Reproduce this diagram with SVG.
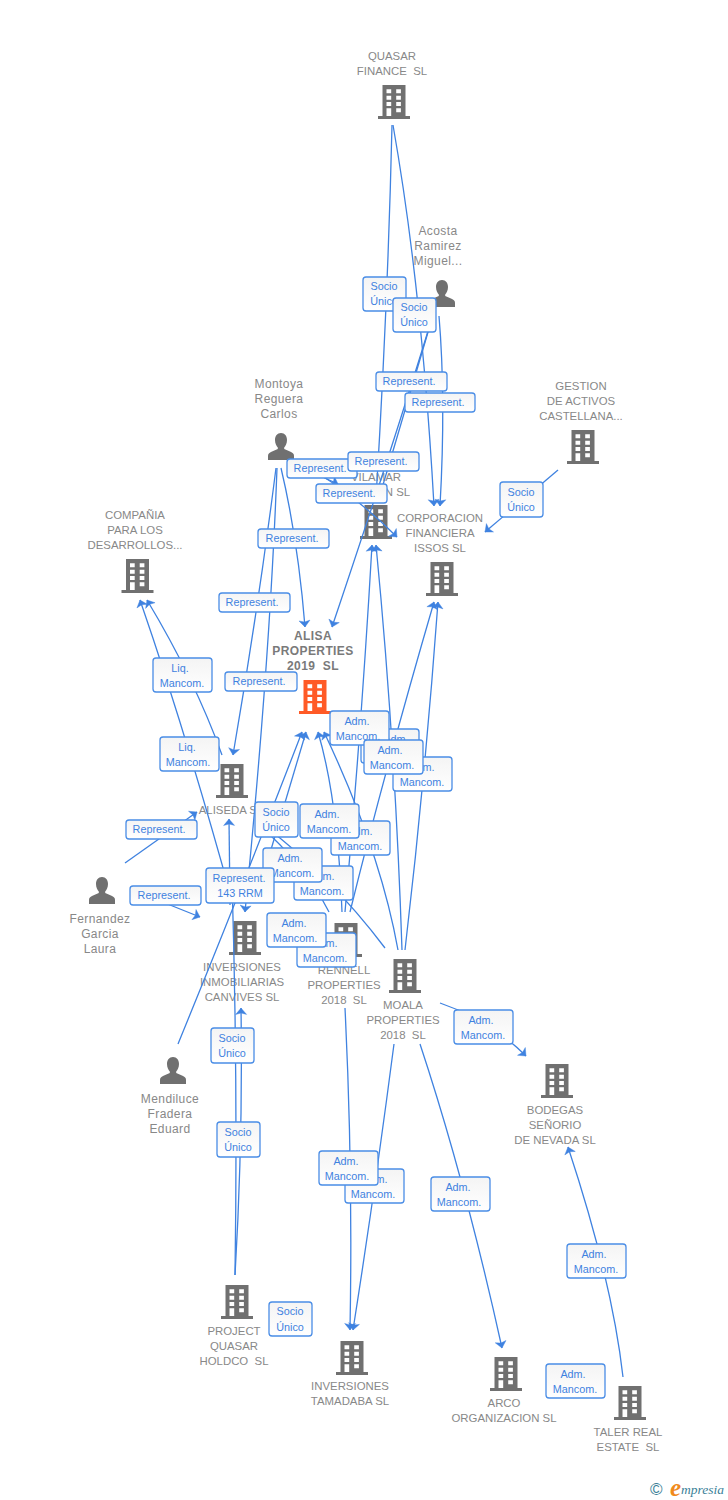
<svg xmlns="http://www.w3.org/2000/svg" width="728" height="1500" viewBox="0 0 728 1500">
<style>
text{font-family:"Liberation Sans",Arial,sans-serif}
.n{font-size:11.4px;fill:#888;text-anchor:middle;white-space:pre}
.h{font-size:12px;fill:#888;text-anchor:middle;letter-spacing:.4px}
.a{font-size:12px;fill:#7a7a7a;font-weight:bold;text-anchor:middle;white-space:pre;letter-spacing:.4px}
.c path{fill:none;stroke:#3f82e0;stroke-width:1.3;marker-end:url(#m)}
.l rect{fill:url(#g);stroke:#4a8de6;stroke-width:1.3}
.l text{font-size:10.8px;fill:#3f82e0;text-anchor:middle}
</style>
<defs>
<marker id="m" markerUnits="userSpaceOnUse" markerWidth="14" markerHeight="14" refX="10" refY="6" orient="auto" overflow="visible"><path d="M3.5,.5 L10,6 L3.5,11.5 L5,6 Z" style="fill:#3f82e0;stroke:#3f82e0;stroke-width:.4"/></marker>
<linearGradient id="g" x1="0" y1="0" x2="0" y2="1"><stop offset="0" stop-color="#f4f4f4"/><stop offset="1" stop-color="#fff"/></linearGradient>
<path id="b" d="M-11.5,0H11.5V31H16V34H-16V31H-11.5ZM-7.5,4.3V8.3H-2.8V4.3ZM2.2,4.3V8.3H6.9V4.3ZM-7.5,10.7V14.7H-2.8V10.7ZM2.2,10.7V14.7H6.9V10.7ZM-7.5,17V21H-2.8V17ZM2.2,17V21H6.9V17ZM-7.5,23.3V31H-2.8V23.3ZM2.2,23.3V27.3H6.9V23.3Z" fill-rule="evenodd"/>
<path id="p" d="M0,0C3.8,0 6,3 6,7C6,10.5 4.5,13 3.2,14.5V16L9,18.5C12,19.7 13,21 13,23V27H-13V23C-13,21 -12,19.7 -9,18.5L-3.2,16V14.5C-4.5,13 -6,10.5 -6,7C-6,3 -3.8,0 0,0Z"/>
</defs>
<rect width="728" height="1500" fill="#fff"/>
<g id="nodes">
<g id="quasar" fill="#707070"><use href="#b" x="394" y="85"/><text class="n" x="392" y="60">QUASAR</text><text class="n" x="392" y="75">FINANCE  SL</text></g>
<g id="acosta" fill="#707070"><use href="#p" x="442" y="280"/><text class="h" x="438" y="235">Acosta</text><text class="h" x="438" y="250">Ramirez</text><text class="h" x="438" y="265">Miguel...</text></g>
<g id="gestion" fill="#707070"><use href="#b" x="583" y="430"/><text class="n" x="581" y="390">GESTION</text><text class="n" x="581" y="405">DE ACTIVOS</text><text class="n" x="581" y="420">CASTELLANA...</text></g>
<g id="montoya" fill="#707070"><use href="#p" x="281" y="433"/><text class="h" x="279" y="388">Montoya</text><text class="h" x="279" y="403">Reguera</text><text class="h" x="279" y="418">Carlos</text></g>
<g id="vilamar" fill="#707070"><use href="#b" x="376" y="505"/><text class="n" x="376" y="481">VILAMAR</text><text class="n" x="376" y="496">GESTION SL</text></g>
<g id="corporacion" fill="#707070"><use href="#b" x="442" y="562"/><text class="n" x="440" y="522">CORPORACION</text><text class="n" x="440" y="537">FINANCIERA</text><text class="n" x="440" y="552">ISSOS SL</text></g>
<g id="compania" fill="#707070"><use href="#b" x="137.500" y="559"/><text class="n" x="135" y="519">COMPAÑIA</text><text class="n" x="135" y="534">PARA LOS</text><text class="n" x="135" y="549">DESARROLLOS...</text></g>
<g id="alisa" fill="#ff5a26"><use href="#b" x="315" y="680"/><text class="a" x="313" y="640">ALISA</text><text class="a" x="313" y="655">PROPERTIES</text><text class="a" x="313" y="670">2019  SL</text></g>
<g id="aliseda" fill="#707070"><use href="#b" x="232" y="764"/><text class="n" x="231" y="814">ALISEDA SL</text></g>
<g id="fernandez" fill="#707070"><use href="#p" x="102" y="877"/><text class="h" x="100" y="923">Fernandez</text><text class="h" x="100" y="938">Garcia</text><text class="h" x="100" y="953">Laura</text></g>
<g id="canvives" fill="#707070"><use href="#b" x="245" y="921"/><text class="n" x="242" y="971">INVERSIONES</text><text class="n" x="242" y="986">INMOBILIARIAS</text><text class="n" x="242" y="1001">CANVIVES SL</text></g>
<g id="rennell" fill="#707070"><use href="#b" x="346" y="923"/><text class="n" x="344" y="974">RENNELL</text><text class="n" x="344" y="989">PROPERTIES</text><text class="n" x="344" y="1004">2018  SL</text></g>
<g id="moala" fill="#707070"><use href="#b" x="405" y="959"/><text class="n" x="403" y="1009">MOALA</text><text class="n" x="403" y="1024">PROPERTIES</text><text class="n" x="403" y="1039">2018  SL</text></g>
<g id="mendiluce" fill="#707070"><use href="#p" x="173" y="1057"/><text class="h" x="170" y="1103">Mendiluce</text><text class="h" x="170" y="1118">Fradera</text><text class="h" x="170" y="1133">Eduard</text></g>
<g id="bodegas" fill="#707070"><use href="#b" x="557" y="1064"/><text class="n" x="555" y="1114">BODEGAS</text><text class="n" x="555" y="1129">SEÑORIO</text><text class="n" x="555" y="1144">DE NEVADA SL</text></g>
<g id="project" fill="#707070"><use href="#b" x="237" y="1285"/><text class="n" x="234" y="1335">PROJECT</text><text class="n" x="234" y="1350">QUASAR</text><text class="n" x="234" y="1365">HOLDCO  SL</text></g>
<g id="tamadaba" fill="#707070"><use href="#b" x="352" y="1341"/><text class="n" x="350" y="1390">INVERSIONES</text><text class="n" x="350" y="1405">TAMADABA SL</text></g>
<g id="arco" fill="#707070"><use href="#b" x="506" y="1357"/><text class="n" x="504" y="1407">ARCO</text><text class="n" x="504" y="1422">ORGANIZACION SL</text></g>
<g id="taler" fill="#707070"><use href="#b" x="630" y="1386"/><text class="n" x="628" y="1436">TALER REAL</text><text class="n" x="628" y="1451">ESTATE  SL</text></g>
</g>
<g id="connectors" class="c">
<path d="M392 125Q388 300 376 498"/>
<path d="M393 125Q422 290 434 506"/>
<path d="M439 316Q446 400 440 506"/>
<path d="M436 305Q395 440 332 627"/>
<path d="M436 305Q408 400 380 495"/>
<path d="M276 468Q258 610 233 755"/>
<path d="M277 468Q270 660 245 912"/>
<path d="M281 468Q298 540 305 627"/>
<path d="M296 465L338 484"/>
<path d="M296 460Q350 490 397 537"/>
<path d="M232 900Q185 730 140 600"/>
<path d="M222 755Q195 680 147 600"/>
<path d="M230 905L229 819"/>
<path d="M125 863L197 812"/>
<path d="M140 893L200 917"/>
<path d="M178 1044Q245 880 302 732"/>
<path d="M256 900L306 732"/>
<path d="M329 912Q305 865 258 824"/>
<path d="M385 948Q330 875 262 824"/>
<path d="M342 912Q338 800 318 732"/>
<path d="M398 950Q380 850 324 732"/>
<path d="M345 912Q362 720 372 545"/>
<path d="M402 950Q395 740 376 545"/>
<path d="M350 912Q385 770 434 602"/>
<path d="M405 950Q425 780 438 602"/>
<path d="M345 1008Q353 1170 350 1330"/>
<path d="M394 1044Q375 1190 353 1330"/>
<path d="M420 1044Q465 1180 502 1348"/>
<path d="M440 1003Q490 1020 526 1056"/>
<path d="M623 1377Q612 1280 568 1147"/>
<path d="M558 470L485 532"/>
<path d="M235 1275Q243 1140 241 1008"/>
<path d="M235 1275Q238 1080 232 880"/>
</g>
<g id="labels" class="l">
<g><rect x="363" y="277" width="43" height="34" rx="3"/><text x="384" y="290">Socio</text><text x="384" y="305">Único</text></g>
<g><rect x="393" y="298" width="43" height="34" rx="3"/><text x="414" y="311">Socio</text><text x="414" y="326">Único</text></g>
<g><rect x="376" y="372" width="71" height="19" rx="3"/><text x="409" y="385">Represent.</text></g>
<g><rect x="405" y="393" width="70" height="19" rx="3"/><text x="438" y="406">Represent.</text></g>
<g><rect x="287" y="459" width="70" height="19" rx="3"/><text x="320" y="472">Represent.</text></g>
<g><rect x="348" y="452" width="71" height="19" rx="3"/><text x="381" y="465">Represent.</text></g>
<g><rect x="316" y="484" width="71" height="19" rx="3"/><text x="349" y="497">Represent.</text></g>
<g><rect x="500" y="482" width="43" height="35" rx="3"/><text x="521" y="496">Socio</text><text x="521" y="511">Único</text></g>
<g><rect x="258" y="529" width="71" height="19" rx="3"/><text x="292" y="542">Represent.</text></g>
<g><rect x="219" y="593" width="71" height="19" rx="3"/><text x="252" y="606">Represent.</text></g>
<g><rect x="153" y="658" width="59" height="34" rx="3"/><text x="180" y="672">Liq.</text><text x="182" y="687">Mancom.</text></g>
<g><rect x="225" y="672" width="72" height="19" rx="3"/><text x="259" y="685">Represent.</text></g>
<g><rect x="160" y="737" width="59" height="34" rx="3"/><text x="187" y="751">Liq.</text><text x="188" y="766">Mancom.</text></g>
<g><rect x="361" y="729" width="58" height="34" rx="3"/><text x="396" y="743">Adm.</text><text x="391" y="758">Mancom.</text></g>
<g><rect x="393" y="757" width="59" height="34" rx="3"/><text x="422" y="771">Adm.</text><text x="422" y="786">Mancom.</text></g>
<g><rect x="330" y="711" width="59" height="34" rx="3"/><text x="357" y="725">Adm.</text><text x="358" y="740">Mancom.</text></g>
<g><rect x="364" y="740" width="59" height="34" rx="3"/><text x="390" y="754">Adm.</text><text x="392" y="769">Mancom.</text></g>
<g><rect x="126" y="820" width="71" height="19" rx="3"/><text x="159" y="833">Represent.</text></g>
<g><rect x="331" y="821" width="59" height="34" rx="3"/><text x="360" y="835">Adm.</text><text x="360" y="850">Mancom.</text></g>
<g><rect x="300" y="804" width="59" height="34" rx="3"/><text x="327" y="818">Adm.</text><text x="329" y="833">Mancom.</text></g>
<g><rect x="255" y="802" width="43" height="35" rx="3"/><text x="276" y="816">Socio</text><text x="276" y="831">Único</text></g>
<g><rect x="294" y="866" width="59" height="34" rx="3"/><text x="322" y="880">Adm.</text><text x="322" y="895">Mancom.</text></g>
<g><rect x="263" y="848" width="59" height="34" rx="3"/><text x="290" y="862">Adm.</text><text x="292" y="877">Mancom.</text></g>
<g><rect x="130" y="886" width="71" height="19" rx="3"/><text x="164" y="899">Represent.</text></g>
<g><rect x="206" y="868" width="68" height="35" rx="3"/><text x="239" y="882">Represent.</text><text x="240" y="897">143 RRM</text></g>
<g><rect x="297" y="933" width="59" height="34" rx="3"/><text x="325" y="947">Adm.</text><text x="325" y="962">Mancom.</text></g>
<g><rect x="267" y="913" width="59" height="34" rx="3"/><text x="294" y="927">Adm.</text><text x="295" y="942">Mancom.</text></g>
<g><rect x="454" y="1010" width="59" height="34" rx="3"/><text x="481" y="1024">Adm.</text><text x="483" y="1039">Mancom.</text></g>
<g><rect x="211" y="1028" width="43" height="35" rx="3"/><text x="232" y="1042">Socio</text><text x="232" y="1057">Único</text></g>
<g><rect x="217" y="1122" width="43" height="35" rx="3"/><text x="238" y="1136">Socio</text><text x="238" y="1151">Único</text></g>
<g><rect x="345" y="1169" width="59" height="34" rx="3"/><text x="375" y="1183">Adm.</text><text x="373" y="1198">Mancom.</text></g>
<g><rect x="319" y="1151" width="59" height="34" rx="3"/><text x="346" y="1165">Adm.</text><text x="347" y="1180">Mancom.</text></g>
<g><rect x="431" y="1177" width="59" height="34" rx="3"/><text x="458" y="1191">Adm.</text><text x="459" y="1206">Mancom.</text></g>
<g><rect x="567" y="1244" width="59" height="34" rx="3"/><text x="594" y="1258">Adm.</text><text x="596" y="1273">Mancom.</text></g>
<g><rect x="269" y="1302" width="43" height="34" rx="3"/><text x="290" y="1315">Socio</text><text x="290" y="1331">Único</text></g>
<g><rect x="546" y="1364" width="59" height="34" rx="3"/><text x="573" y="1378">Adm.</text><text x="575" y="1393">Mancom.</text></g>
</g>
<g id="logo"><text x="650" y="1495" font-size="17" fill="#3b7f98">©</text><text x="670" y="1496" font-size="25" font-style="italic" font-weight="bold" fill="#f08a1c" style="font-family:'Liberation Serif',serif">e</text><text x="681" y="1494" font-size="13.500" font-style="italic" fill="#3b7f98" style="font-family:'Liberation Serif',serif">mpresia</text></g>
</svg>
